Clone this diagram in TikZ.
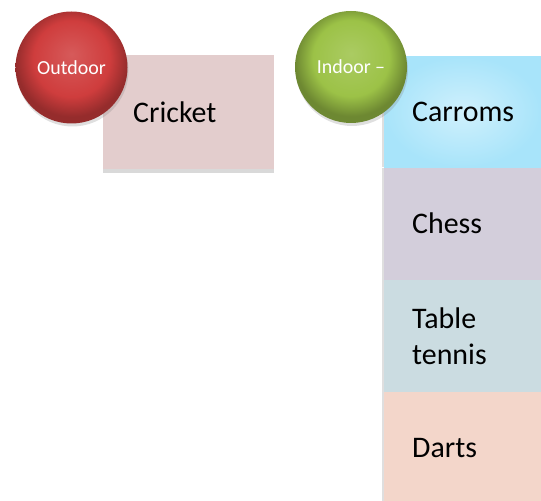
\documentclass[tikz,border=0pt]{standalone}
\usepackage{fontspec}
\setmainfont{Carlito}
\usetikzlibrary{positioning,shadows}

\definecolor{outdoorred}{HTML}{CF3D3D}
\definecolor{indoorgreen}{HTML}{9CC247}
\definecolor{cricketfill}{HTML}{E3CDCD}
\definecolor{carromfill}{HTML}{A8E4FA}
\definecolor{chessfill}{HTML}{D3CEDB}
\definecolor{tennisfill}{HTML}{CBDCE1}
\definecolor{dartsfill}{HTML}{F3D6CA}

\pgfdeclareradialshading{redball}{\pgfpoint{0bp}{6bp}}{%
	color(0bp)=(outdoorred!85!white);
	color(17bp)=(outdoorred);
	color(25bp)=(outdoorred!72!black);
	color(50bp)=(outdoorred!72!black)}
\pgfdeclareradialshading{greenball}{\pgfpoint{0bp}{6bp}}{%
	color(0bp)=(indoorgreen!85!white);
	color(17bp)=(indoorgreen);
	color(25bp)=(indoorgreen!70!black);
	color(50bp)=(indoorgreen!70!black)}

\begin{document}
\begin{tikzpicture}[
x = 1bp, y = -1bp,
node distance = 0bp,
every node/.style = {
	font = \fontsize{30}{36}\selectfont
},
sport box/.style = {
	rectangle,
	minimum height = 112bp,
	align = left
},
stack box/.style = {
	sport box,
	inner xsep = 28bp,
	text width = 101bp,
	drop shadow = {shadow xshift = -2bp, shadow yshift = 0bp, opacity = 0.25}
},
category ball/.style = {
	circle,
	minimum size = 112bp,
	inner sep = 0pt,
	text = white,
	font = \fontsize{20}{24}\selectfont,
	drop shadow = {shadow xshift = 1bp, shadow yshift = -3bp, opacity = 0.25}
}
]
\useasboundingbox (0,0) rectangle (541,501);

% outdoor group
\node [sport box, anchor = north west, minimum height = 114bp, inner xsep = 30bp,
	text width = 111bp, fill = cricketfill,
	drop shadow = {shadow xshift = 0bp, shadow yshift = -4bp, opacity = 0.3}]
	at (103,55) (cricket) {Cricket};
\node [category ball, shading = redball] at (71.5,67.5) (outdoor) {Outdoor};

% indoor group
\node [stack box, anchor = north west, minimum height = 111bp,
	inner color = carromfill!55!white, outer color = carromfill]
	at (384,56) (carroms) {Carroms};
\node [stack box, fill = chessfill, below = of carroms] (chess) {Chess};
\node [stack box, fill = tennisfill, below = of chess] (tennis) {Table\\tennis};
\node [stack box, fill = dartsfill, below = of tennis] (darts) {Darts};
\node [category ball, shading = greenball] at (351,67) (indoor) {Indoor --};

\end{tikzpicture}
\end{document}
